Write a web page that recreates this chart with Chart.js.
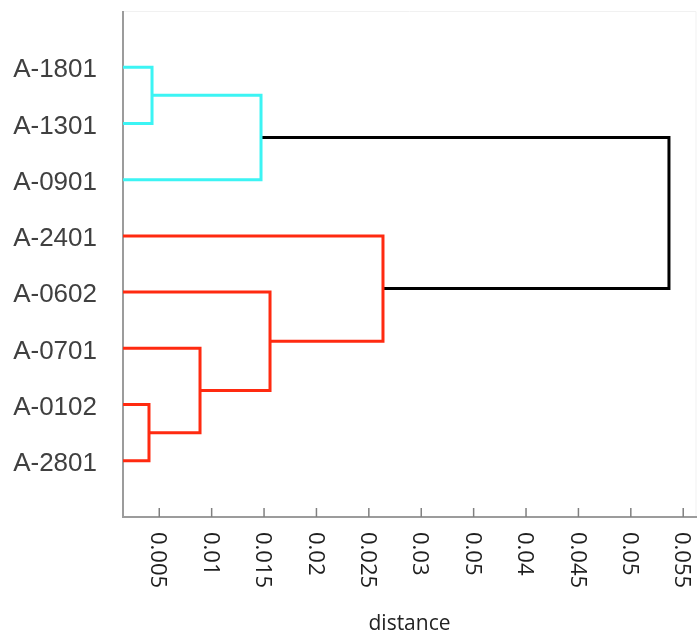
<!DOCTYPE html>
<html><head><meta charset="utf-8">
<script src="https://cdn.jsdelivr.net/npm/chart.js@4/dist/chart.umd.min.js"></script>
<style>html,body{margin:0;padding:0;background:#fff}canvas{display:block}</style>
</head>
<body>
<canvas id="c" width="697" height="632"></canvas>
<script>
// ---- data ----
const leaves = ['A-1801','A-1301','A-0901','A-2401','A-0602','A-0701','A-0102','A-2801'];
// merges (node ids: leaves 0..7, merges 8..14 in order)
const mergeLeft   = [0, 8, 6, 5, 4, 3, 9];
const mergeRight  = [1, 2, 7, 10, 11, 12, 13];
const mergeHeight = [0.00431, 0.01471, 0.00402, 0.00889, 0.01557, 0.02635, 0.05364];
const mergeCluster = ['cyan','cyan','red','red','red','red','root'];
const tickValues = [0.005,0.01,0.015,0.02,0.025,0.03,0.035,0.04,0.045,0.05,0.055];
const tickLabels = ['0.005','0.01','0.015','0.02','0.025','0.03','0.05','0.04','0.045','0.05','0.055'];
const axisStart = 0.00154;
const axisEnd = 0.05622;
const axisTitle = 'distance';

const clusterColors = {cyan:'#3cf4f4', red:'#ff2a10', root:'#000000'};

// ---- build dendrogram link datasets ----
const nodeX = leaves.map(() => axisStart);
const nodeY = leaves.map((_, i) => i);
const datasets = [];
mergeLeft.forEach((a, k) => {
  const b = mergeRight[k];
  const h = mergeHeight[k];
  datasets.push({
    data: [{x: nodeX[a], y: nodeY[a]}, {x: h, y: nodeY[a]}, {x: h, y: nodeY[b]}, {x: nodeX[b], y: nodeY[b]}],
    showLine: true,
    borderColor: clusterColors[mergeCluster[k]],
    borderWidth: 3,
    pointRadius: 0,
    pointHoverRadius: 0,
    fill: false,
    tension: 0,
    borderJoinStyle: 'miter',
    borderCapStyle: 'butt'
  });
  nodeX.push(h);
  nodeY.push((nodeY[a] + nodeY[b]) / 2);
});

const decor = {
  id: 'decor',
  beforeDatasetsDraw(chart) {
    const ctx = chart.ctx, xs = chart.scales.x, ys = chart.scales.y;
    const L = xs.left, R = xs.right, T = ys.top, B = ys.bottom;
    ctx.save();
    // faint frame
    ctx.strokeStyle = '#f1f1f1'; ctx.lineWidth = 1;
    ctx.beginPath(); ctx.moveTo(L, T + 0.5); ctx.lineTo(R, T + 0.5); ctx.lineTo(R, B); ctx.stroke();
    // axes
    ctx.strokeStyle = '#9c9c9c'; ctx.lineWidth = 2;
    ctx.beginPath(); ctx.moveTo(L, T); ctx.lineTo(L, B); ctx.lineTo(697, B); ctx.stroke();
    // ticks (inward)
    ctx.strokeStyle = '#808080'; ctx.lineWidth = 1.5;
    tickValues.forEach(v => {
      const px = xs.getPixelForValue(v);
      ctx.beginPath(); ctx.moveTo(px, B - 9); ctx.lineTo(px, B); ctx.stroke();
    });
    ctx.restore();
  },
  afterDraw(chart) {
    const ctx = chart.ctx, xs = chart.scales.x, ys = chart.scales.y;
    ctx.save();
    // leaf labels
    ctx.font = '26px "Liberation Sans", Arial, sans-serif';
    ctx.fillStyle = '#404040';
    ctx.textAlign = 'right'; ctx.textBaseline = 'middle';
    leaves.forEach((name, i) => ctx.fillText(name, 97, ys.getPixelForValue(i) + 3));
    // tick labels, rotated clockwise
    ctx.font = '22px "Open Sans", sans-serif';
    ctx.fillStyle = '#1e1e1e';
    ctx.textAlign = 'left'; ctx.textBaseline = 'middle';
    tickValues.forEach((v, i) => {
      const px = xs.getPixelForValue(v);
      ctx.save();
      ctx.translate(px, ys.bottom + 15);
      ctx.rotate(Math.PI / 2);
      ctx.fillText(tickLabels[i], 0, 1.5);
      ctx.restore();
    });
    // axis title
    ctx.font = '21px "Open Sans", sans-serif';
    ctx.fillStyle = '#222222';
    ctx.textAlign = 'center'; ctx.textBaseline = 'alphabetic';
    ctx.fillText(axisTitle, (xs.left + xs.right) / 2, 630);
    ctx.restore();
  }
};

new Chart(document.getElementById('c'), {
  type: 'scatter',
  data: { datasets },
  options: {
    responsive: false,
    animation: false,
    devicePixelRatio: 1,
    layout: { padding: { left: 123, top: 11, right: 1, bottom: 115 } },
    plugins: { legend: { display: false }, tooltip: { enabled: false } },
    scales: {
      x: { type: 'linear', min: axisStart, max: axisEnd, display: false },
      y: { type: 'linear', min: -1, max: 8, reverse: true, display: false }
    }
  },
  plugins: [decor]
});
</script>
</body></html>
